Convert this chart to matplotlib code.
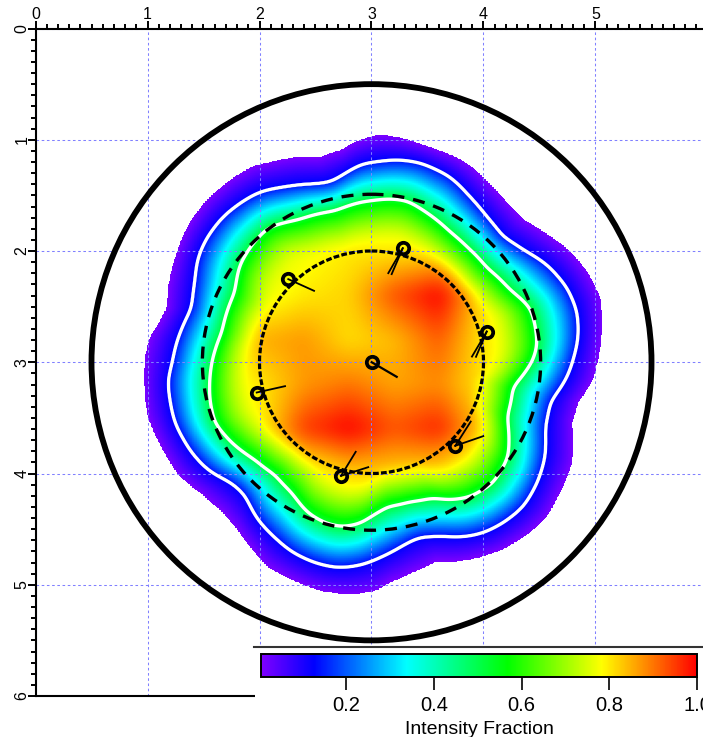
#!/usr/bin/env python3
# -*- coding: utf-8 -*-
import matplotlib
matplotlib.use('Agg')
import matplotlib.pyplot as plt
from matplotlib.cm import ScalarMappable
from matplotlib.colors import LinearSegmentedColormap, Normalize
from matplotlib.lines import Line2D
from matplotlib.patches import Circle, Rectangle
from matplotlib.ticker import MultipleLocator
import numpy as np

plt.rcParams['font.family'] = ['Liberation Sans', 'DejaVu Sans']

W, H = 703, 737

# ---- boundaries, clockwise from the top ----
edge_x = [3.076, 3.254, 3.406, 3.585, 3.763, 3.906, 4.058, 4.210, 4.353, 4.531, 4.772, 4.924, 5.040, 5.058, 5.022,
          4.978, 4.844, 4.790, 4.790, 4.683, 4.567, 4.415, 4.174, 3.969, 3.790, 3.585, 3.371, 3.165, 3.031, 2.790,
          2.558, 2.317, 2.076, 1.933, 1.781, 1.665, 1.487, 1.272, 1.174, 1.067, 1.004, 0.978, 0.978, 1.022, 1.094,
          1.174, 1.183, 1.246, 1.335, 1.424, 1.531, 1.665, 1.781, 1.933, 2.076, 2.290, 2.522, 2.737, 2.853, 2.987]
edge_y = [0.957, 0.984, 1.029, 1.092, 1.164, 1.253, 1.406, 1.568, 1.721, 1.828, 2.008, 2.188, 2.421, 2.664, 2.978,
          3.158, 3.365, 3.544, 3.904, 4.173, 4.389, 4.533, 4.686, 4.757, 4.793, 4.793, 4.892, 4.982, 5.063, 5.090,
          5.063, 4.973, 4.847, 4.686, 4.479, 4.344, 4.191, 4.012, 3.859, 3.652, 3.491, 3.311, 2.960, 2.781, 2.664,
          2.511, 2.332, 2.062, 1.828, 1.676, 1.541, 1.424, 1.334, 1.244, 1.208, 1.164, 1.164, 1.092, 1.020, 0.975]

low_x = [2.987, 3.237, 3.433, 3.701, 3.879, 4.031, 4.174, 4.353, 4.567, 4.746, 4.835, 4.844, 4.799, 4.746, 4.594,
         4.549, 4.549, 4.478, 4.353, 4.174, 3.996, 3.817, 3.612, 3.433, 3.317, 3.165, 3.031, 2.915, 2.701, 2.496,
         2.290, 2.112, 1.987, 1.871, 1.754, 1.540, 1.397, 1.246, 1.201, 1.183, 1.219, 1.263, 1.397, 1.424, 1.451,
         1.531, 1.674, 1.844, 2.004, 2.228, 2.522, 2.647, 2.790, 2.915]
low_y = [1.208, 1.181, 1.208, 1.334, 1.514, 1.694, 1.873, 1.990, 2.125, 2.332, 2.547, 2.781, 2.978, 3.131, 3.356,
         3.580, 3.850, 4.084, 4.299, 4.443, 4.533, 4.569, 4.560, 4.569, 4.623, 4.712, 4.775, 4.820, 4.847, 4.802,
         4.704, 4.551, 4.416, 4.191, 4.084, 3.967, 3.814, 3.544, 3.338, 3.158, 3.023, 2.817, 2.511, 2.278, 2.062,
         1.882, 1.694, 1.559, 1.469, 1.424, 1.397, 1.379, 1.289, 1.217]

mid_x = [2.987, 3.165, 3.317, 3.496, 3.701, 3.853, 4.031, 4.237, 4.415, 4.460, 4.478, 4.442, 4.263, 4.210, 4.219,
         4.085, 3.879, 3.701, 3.549, 3.344, 3.138, 2.987, 2.915, 2.737, 2.585, 2.433, 2.290, 2.138, 1.960, 1.754,
         1.603, 1.558, 1.558, 1.576, 1.665, 1.781, 1.826, 1.933, 2.076, 2.344, 2.674, 2.915]
mid_y = [1.550, 1.532, 1.550, 1.658, 1.828, 1.963, 2.152, 2.350, 2.511, 2.664, 2.844, 2.978, 3.221, 3.491, 3.850,
         4.084, 4.209, 4.236, 4.218, 4.254, 4.299, 4.389, 4.443, 4.479, 4.443, 4.353, 4.173, 4.012, 3.877, 3.724,
         3.544, 3.338, 3.131, 2.996, 2.727, 2.368, 2.125, 1.945, 1.792, 1.721, 1.640, 1.559]

# intensity
inner_x = [1.6, 2.0, 2.4, 2.8, 3.2, 3.6, 4.0, 4.4]
inner_y = [1.6, 2.0, 2.4, 2.8, 3.2, 3.6, 4.0, 4.4]
inner_vals = [
    [.70, .70, .70, .71, .72, .71, .70, .70],
    [.72, .74, .77, .80, .80, .80, .72, .70],
    [.74, .76, .80, .82, .93, 1.0, .80, .72],
    [.76, .85, .87, .81, .84, .92, .80, .74],
    [.76, .80, .87, .90, .86, .88, .80, .74],
    [.72, .78, .95, 1.0, .93, .97, .82, .72],
    [.70, .72, .76, .82, .82, .80, .74, .70],
    [.70, .70, .70, .71, .71, .70, .70, .70],
]

# beam positions and their vector tails
spot_x = [3.002, 3.279, 2.257, 4.029, 1.975, 2.728, 3.748]
spot_y = [3.000, 1.975, 2.253, 2.724, 3.272, 4.021, 3.751]
tail_x = [3.225, 3.150, 2.487, 3.897, 2.228, 2.859, 3.998]
tail_y = [3.131, 2.199, 2.358, 2.949, 3.215, 3.805, 3.664]
tail2_x = [np.nan, 3.180, np.nan, 3.933, np.nan, 2.971, 3.886]
tail2_y = [np.nan, 2.208, np.nan, 2.951, np.nan, 3.943, 3.533]

cbar_ticks = [0.2, 0.4, 0.6, 0.8, 1.0]
cmap_levels = [0.005, 0.125, 0.337, 0.568, 0.783, 1.0]
cmap_colors = ['#8000ff', '#0000ff', '#00ffff', '#00ff00', '#ffff00', '#ff0000']
LOW_LEVEL, MID_LEVEL = 0.13, 0.52
CENTER = 3.0

vmin, vmax = cmap_levels[0], cmap_levels[-1]
stops = [(v - vmin) / (vmax - vmin) for v in cmap_levels]
cmap = LinearSegmentedColormap.from_list('beam', list(zip(stops, cmap_colors)), N=512)
norm = Normalize(vmin, vmax)


def polar_radius(theta, px, py, width=1):
    """radius of a read boundary at the angles theta, rounded over width half-degrees"""
    a = np.degrees(np.arctan2(np.array(py) - CENTER, np.array(px) - CENTER)) % 360
    r = np.hypot(np.array(px) - CENTER, np.array(py) - CENTER)
    order = np.argsort(a)
    fine = np.arange(0, 360, 0.5)
    rf = np.interp(fine, a[order], r[order], period=360)
    rf = np.concatenate([rf, rf, rf])
    kern = np.ones(width) / width
    for _ in range(2):
        rf = np.convolve(rf, kern, mode='same')
    return np.interp(theta, fine, rf[len(fine):2 * len(fine)], period=360)


# ---- field ----
gx = np.arange(0.9, 5.2, 0.006)
gy = np.arange(0.9, 5.15, 0.006)
X, Y = np.meshgrid(gx, gy)
R = np.hypot(X - CENTER, Y - CENTER)
T = np.degrees(np.arctan2(Y - CENTER, X - CENTER)) % 360
r_edge = polar_radius(T, edge_x, edge_y, 3)
r_low = polar_radius(T, low_x, low_y, 9)
r_mid = polar_radius(T, mid_x, mid_y, 9)

inner = np.array([np.interp(gx, inner_x, row) for row in inner_vals])
inner = np.array([np.interp(gy, inner_y, col) for col in inner.T]).T
kernel = np.ones(25) / 25
for _ in range(2):
    inner = np.apply_along_axis(np.convolve, 0, inner, kernel, mode='same')
    inner = np.apply_along_axis(np.convolve, 1, inner, kernel, mode='same')
inner = np.maximum(inner, 0.70)

w = np.clip((r_mid - R) / 0.42, 0, 1)
w = 1 - (1 - w) ** 2
field = MID_LEVEL + (inner - MID_LEVEL) * w
ring1 = (R >= r_mid) & (R < r_low)
field[ring1] = (MID_LEVEL + (LOW_LEVEL - MID_LEVEL) * (R - r_mid) / (r_low - r_mid))[ring1]
ring2 = R >= r_low
field[ring2] = (LOW_LEVEL + (vmin + 0.005 - LOW_LEVEL) * (R - r_low) / (r_edge - r_low))[ring2]
field = np.ma.masked_where(R > r_edge, field)

# ---- main axes ----
fig = plt.figure(figsize=(W / 100, H / 100), dpi=100)
left, top, right, bottom = 35.5, 28.5, W, 696.0
ax = fig.add_axes([left / W, 1 - bottom / H, (right - left) / W, (bottom - top) / H])

ax.imshow(field, extent=[gx[0], gx[-1], gy[-1], gy[0]], cmap=cmap, norm=norm,
          aspect='auto', interpolation='nearest', zorder=0)
ax.contour(gx, gy, field, levels=[LOW_LEVEL, MID_LEVEL], colors='white', linewidths=2.4, zorder=2)
ax.set_xlim(0, (right - left) / 112.0)
ax.set_ylim(6, 0)

ax.set_axisbelow(True)
ax.grid(True, which='major', color='#8080ff', lw=0.75, linestyle=(0, (2.5, 2.5)))

ax.xaxis.set_major_locator(MultipleLocator(1))
ax.yaxis.set_major_locator(MultipleLocator(1))
ax.xaxis.set_minor_locator(MultipleLocator(0.1))
ax.yaxis.set_minor_locator(MultipleLocator(0.1))
ax.xaxis.tick_top()
ax.tick_params(which='major', length=6, width=1.4, labelsize=11.5, pad=-1.5, color='black')
ax.tick_params(which='minor', length=3.4, width=1.4, color='black')
ax.set_xticks(range(6))
for lab in ax.get_yticklabels():
    lab.set_rotation(90)
    lab.set_va('center')
for side in ('top', 'left', 'bottom'):
    ax.spines[side].set_linewidth(1.5)
ax.spines['right'].set_visible(False)

# ---- circles ----
ax.add_patch(Circle((CENTER, CENTER), 2.5, fill=False, ec='black', lw=4.2, zorder=3))
ax.add_patch(Circle((CENTER, CENTER), 1.51, fill=False, ec='black', lw=2.4,
                    linestyle=(0, (3.6, 2.7)), zorder=3))
ax.add_patch(Circle((CENTER, CENTER), 1.0, fill=False, ec='black', lw=2.3,
                    linestyle=(0, (1.8, 0.7)), zorder=3))

# ---- beam spots ----
for i in range(len(spot_x)):
    ax.plot([spot_x[i], tail_x[i]], [spot_y[i], tail_y[i]], color='black',
            lw=1.3 if i else 1.6, zorder=4)
    if not np.isnan(tail2_x[i]):
        ax.plot([spot_x[i], tail2_x[i]], [spot_y[i], tail2_y[i]], color='black', lw=1.3, zorder=4)
ax.plot(spot_x, spot_y, 'o', ms=8.2, mfc='none', mec='black', mew=2.7, zorder=5)

# ---- colorbar panel ----
fig.add_artist(Rectangle((255 / W, 0), (W - 255) / W, 1 - 646.5 / H, transform=fig.transFigure,
                         fc='white', ec='none', zorder=5))
fig.add_artist(Line2D([254 / W, 1], [1 - 646.5 / H] * 2, color='#333333', lw=1.5, zorder=6))

cax = fig.add_axes([261 / W, 1 - 676.5 / H, 436 / W, 23 / H], zorder=7)
cb = fig.colorbar(ScalarMappable(norm=norm, cmap=cmap), cax=cax, orientation='horizontal', ticks=cbar_ticks)
cb.outline.set_linewidth(1.4)
cb.ax.tick_params(length=9.5, width=1.2, labelsize=14.5, pad=4.5)
cb.set_label('Intensity Fraction', fontsize=14, labelpad=4.5)

fig.savefig('out.png', dpi=100)
plt.close(fig)
